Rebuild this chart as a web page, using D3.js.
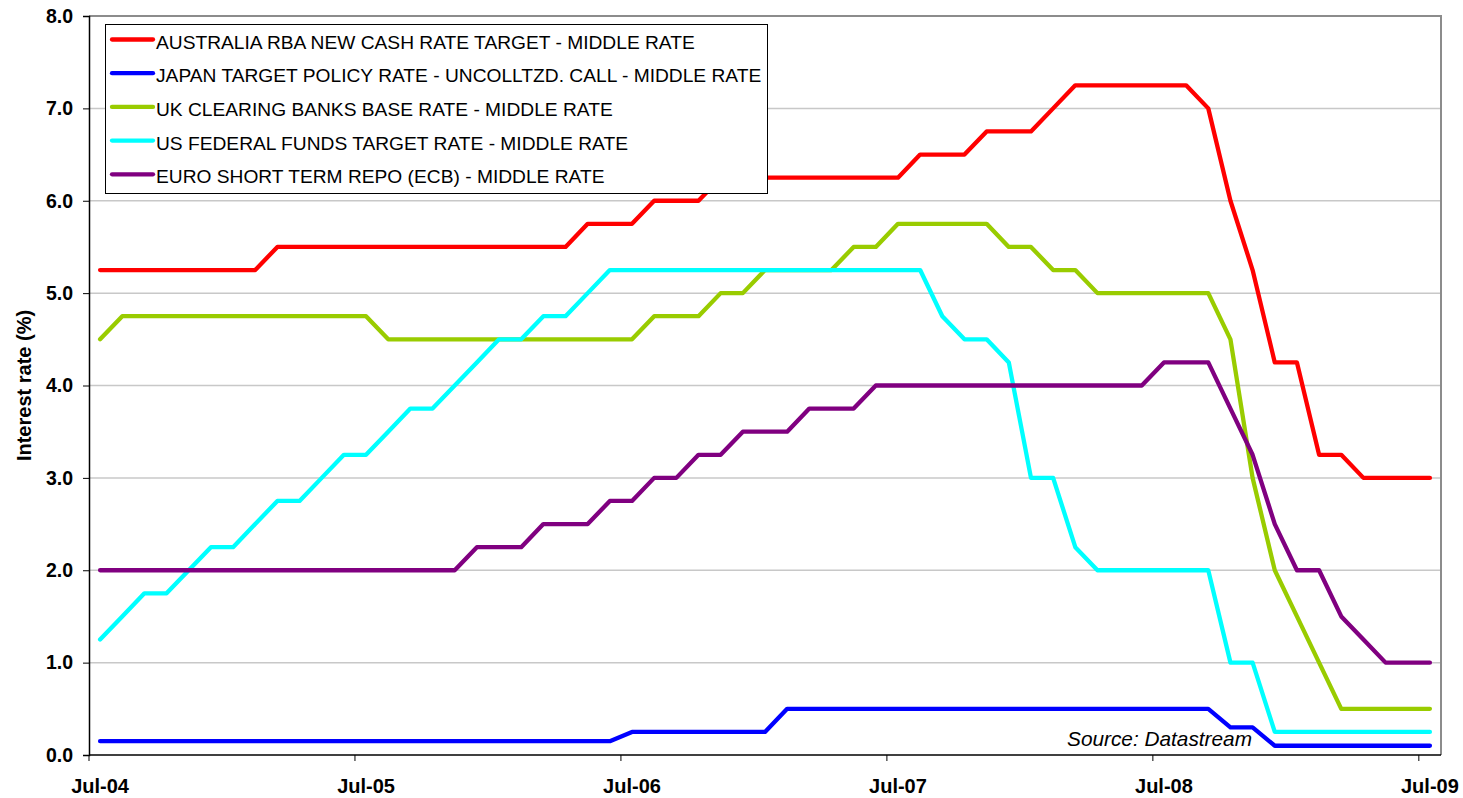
<!DOCTYPE html>
<html>
<head>
<meta charset="utf-8">
<script src="https://cdn.jsdelivr.net/npm/d3@7"></script>
<style>
    body { margin: 0; background: #fff; }
    #chart { width: 1463px; height: 798px; }
    text { font-family: Arial, "Liberation Sans", sans-serif; }
</style>
</head>
<body>
<div id="chart"></div>
<script>

// monthly categories, Jul-04 .. Jul-09
const months = [
    "Jul-04","Aug-04","Sep-04","Oct-04","Nov-04","Dec-04","Jan-05","Feb-05","Mar-05","Apr-05","May-05","Jun-05",
    "Jul-05","Aug-05","Sep-05","Oct-05","Nov-05","Dec-05","Jan-06","Feb-06","Mar-06","Apr-06","May-06","Jun-06",
    "Jul-06","Aug-06","Sep-06","Oct-06","Nov-06","Dec-06","Jan-07","Feb-07","Mar-07","Apr-07","May-07","Jun-07",
    "Jul-07","Aug-07","Sep-07","Oct-07","Nov-07","Dec-07","Jan-08","Feb-08","Mar-08","Apr-08","May-08","Jun-08",
    "Jul-08","Aug-08","Sep-08","Oct-08","Nov-08","Dec-08","Jan-09","Feb-09","Mar-09","Apr-09","May-09","Jun-09",
    "Jul-09"
];

const tickLabels = ["Jul-04", "Jul-05", "Jul-06", "Jul-07", "Jul-08", "Jul-09"];
const yTicks = [0, 1, 2, 3, 4, 5, 6, 7, 8];

const australia = [
    5.25, 5.25, 5.25, 5.25, 5.25, 5.25, 5.25, 5.25, 5.5, 5.5, 5.5, 5.5,
    5.5, 5.5, 5.5, 5.5, 5.5, 5.5, 5.5, 5.5, 5.5, 5.5, 5.75, 5.75,
    5.75, 6.0, 6.0, 6.0, 6.25, 6.25, 6.25, 6.25, 6.25, 6.25, 6.25, 6.25,
    6.25, 6.5, 6.5, 6.5, 6.75, 6.75, 6.75, 7.0, 7.25, 7.25, 7.25, 7.25,
    7.25, 7.25, 7.0, 6.0, 5.25, 4.25, 4.25, 3.25, 3.25, 3.0, 3.0, 3.0,
    3.0
];

const japan = [
    0.15, 0.15, 0.15, 0.15, 0.15, 0.15, 0.15, 0.15, 0.15, 0.15, 0.15, 0.15,
    0.15, 0.15, 0.15, 0.15, 0.15, 0.15, 0.15, 0.15, 0.15, 0.15, 0.15, 0.15,
    0.25, 0.25, 0.25, 0.25, 0.25, 0.25, 0.25, 0.5, 0.5, 0.5, 0.5, 0.5,
    0.5, 0.5, 0.5, 0.5, 0.5, 0.5, 0.5, 0.5, 0.5, 0.5, 0.5, 0.5,
    0.5, 0.5, 0.5, 0.3, 0.3, 0.1, 0.1, 0.1, 0.1, 0.1, 0.1, 0.1,
    0.1
];

const uk = [
    4.5, 4.75, 4.75, 4.75, 4.75, 4.75, 4.75, 4.75, 4.75, 4.75, 4.75, 4.75,
    4.75, 4.5, 4.5, 4.5, 4.5, 4.5, 4.5, 4.5, 4.5, 4.5, 4.5, 4.5,
    4.5, 4.75, 4.75, 4.75, 5.0, 5.0, 5.25, 5.25, 5.25, 5.25, 5.5, 5.5,
    5.75, 5.75, 5.75, 5.75, 5.75, 5.5, 5.5, 5.25, 5.25, 5.0, 5.0, 5.0,
    5.0, 5.0, 5.0, 4.5, 3.0, 2.0, 1.5, 1.0, 0.5, 0.5, 0.5, 0.5,
    0.5
];

const us = [
    1.25, 1.5, 1.75, 1.75, 2.0, 2.25, 2.25, 2.5, 2.75, 2.75, 3.0, 3.25,
    3.25, 3.5, 3.75, 3.75, 4.0, 4.25, 4.5, 4.5, 4.75, 4.75, 5.0, 5.25,
    5.25, 5.25, 5.25, 5.25, 5.25, 5.25, 5.25, 5.25, 5.25, 5.25, 5.25, 5.25,
    5.25, 5.25, 4.75, 4.5, 4.5, 4.25, 3.0, 3.0, 2.25, 2.0, 2.0, 2.0,
    2.0, 2.0, 2.0, 1.0, 1.0, 0.25, 0.25, 0.25, 0.25, 0.25, 0.25, 0.25,
    0.25
];

const euro = [
    2.0, 2.0, 2.0, 2.0, 2.0, 2.0, 2.0, 2.0, 2.0, 2.0, 2.0, 2.0,
    2.0, 2.0, 2.0, 2.0, 2.0, 2.25, 2.25, 2.25, 2.5, 2.5, 2.5, 2.75,
    2.75, 3.0, 3.0, 3.25, 3.25, 3.5, 3.5, 3.5, 3.75, 3.75, 3.75, 4.0,
    4.0, 4.0, 4.0, 4.0, 4.0, 4.0, 4.0, 4.0, 4.0, 4.0, 4.0, 4.0,
    4.25, 4.25, 4.25, 3.75, 3.25, 2.5, 2.0, 2.0, 1.5, 1.25, 1.0, 1.0,
    1.0
];

const seriesNames = [
    "AUSTRALIA RBA NEW CASH RATE TARGET - MIDDLE RATE",
    "JAPAN TARGET POLICY RATE - UNCOLLTZD. CALL - MIDDLE RATE",
    "UK CLEARING BANKS BASE RATE - MIDDLE RATE",
    "US FEDERAL FUNDS TARGET RATE - MIDDLE RATE",
    "EURO SHORT TERM REPO (ECB) - MIDDLE RATE"
];
const seriesColors = ["#FF0000", "#0000FF", "#99CC00", "#00FFFF", "#800080"];

// drawing order: later series are painted on top
const seriesValues = [australia, japan, uk, us, euro];
const drawOrder = [0, 1, 2, 3, 4];

// chart setup
let margin = {top: 16, right: 22, bottom: 43, left: 89};
let width = 1463 - margin.left - margin.right;
let height = 798 - margin.top - margin.bottom;

let svg = d3.select("#chart").append("svg")
    .attr("width", 1463)
    .attr("height", 798)
    .append("g")
    .attr("transform", `translate(${margin.left}, ${margin.top})`);

// scales
let x = d3.scaleBand()
    .domain(months)
    .range([0, width])
    .padding(0);

let y = d3.scaleLinear()
    .domain([0, 8])
    .range([height, 0]);

// grid lines
svg.append("g")
    .attr("class", "grid")
    .selectAll("line")
    .data(yTicks.filter(d => d > 0))
    .enter()
    .append("line")
    .attr("x1", 0)
    .attr("x2", width)
    .attr("y1", d => y(d))
    .attr("y2", d => y(d))
    .attr("stroke", "#c8c8c8")
    .attr("stroke-width", 1.5);

// plot frame (top and right)
svg.append("path")
    .attr("d", `M0,0 H${width} V${height}`)
    .attr("fill", "none")
    .attr("stroke", "#8c8c8c")
    .attr("stroke-width", 2);

// y axis
let yAxis = d3.axisLeft(y)
    .tickValues(yTicks)
    .tickFormat(d3.format(".1f"))
    .tickSize(6)
    .tickPadding(10);

let yAxisGroup = svg.append("g")
    .attr("class", "axis y-axis")
    .call(yAxis);

yAxisGroup.select(".domain").attr("stroke", "#000").attr("stroke-width", 1.5);
yAxisGroup.selectAll(".tick line").attr("stroke", "#000").attr("stroke-width", 1);
yAxisGroup.selectAll("text")
    .attr("font-size", "19.5px")
    .attr("font-weight", "bold")
    .attr("font-family", "Arial, 'Liberation Sans', sans-serif")
    .attr("fill", "#000");

// x axis: category axis, labels centred on a month, tick marks on its left edge
let xAxisGroup = svg.append("g")
    .attr("class", "axis x-axis")
    .attr("transform", `translate(0, ${height})`);

xAxisGroup.append("line")
    .attr("x1", 0)
    .attr("x2", width)
    .attr("stroke", "#000")
    .attr("stroke-width", 1.5);

xAxisGroup.selectAll(".tick-mark")
    .data(tickLabels)
    .enter()
    .append("line")
    .attr("class", "tick-mark")
    .attr("x1", d => x(d))
    .attr("x2", d => x(d))
    .attr("y1", 0)
    .attr("y2", 6)
    .attr("stroke", "#000");

xAxisGroup.selectAll(".tick-label")
    .data(tickLabels)
    .enter()
    .append("text")
    .attr("class", "tick-label")
    .attr("x", d => x(d) + x.bandwidth() / 2)
    .attr("y", 37.5)
    .attr("text-anchor", "middle")
    .attr("font-size", "20px")
    .attr("font-weight", "bold")
    .text(d => d);

// y axis title
svg.append("text")
    .attr("transform", `translate(${24 - margin.left}, ${height / 2}) rotate(-90)`)
    .attr("text-anchor", "middle")
    .attr("dominant-baseline", "central")
    .attr("font-size", "20px")
    .attr("font-weight", "bold")
    .text("Interest rate (%)");

// lines
let line = d3.line()
    .x((d, i) => x(months[i]) + x.bandwidth() / 2)
    .y(d => y(d));

svg.append("g")
    .attr("class", "lines")
    .selectAll("path")
    .data(drawOrder)
    .enter()
    .append("path")
    .attr("d", k => line(seriesValues[k]))
    .attr("fill", "none")
    .attr("stroke", k => seriesColors[k])
    .attr("stroke-width", 4.3)
    .attr("stroke-linejoin", "round")
    .attr("stroke-linecap", "round");

// source note
svg.append("text")
    .attr("x", 1252 - margin.left)
    .attr("y", 746 - margin.top)
    .attr("text-anchor", "end")
    .attr("font-size", "20.8px")
    .attr("font-style", "italic")
    .text("Source: Datastream");

// legend
let legend = svg.append("g")
    .attr("class", "legend")
    .attr("transform", `translate(${105 - margin.left}, ${24 - margin.top})`);

legend.append("rect")
    .attr("x", 0.5)
    .attr("y", 0.5)
    .attr("width", 662)
    .attr("height", 169)
    .attr("fill", "#fff")
    .attr("stroke", "#000")
    .attr("stroke-width", 1);

let legendItems = legend.selectAll(".legend-item")
    .data(seriesNames)
    .enter()
    .append("g")
    .attr("class", "legend-item")
    .attr("transform", (d, i) => `translate(0, ${15.5 + i * 33.7})`);

legendItems.append("line")
    .attr("x1", 7)
    .attr("x2", 48)
    .attr("stroke", (d, i) => seriesColors[i])
    .attr("stroke-width", 4.3)
    .attr("stroke-linecap", "round");

legendItems.append("text")
    .attr("x", 51)
    .attr("y", 9)
    .attr("font-size", "19.2px")
    .text(d => d);

</script>
</body>
</html>
